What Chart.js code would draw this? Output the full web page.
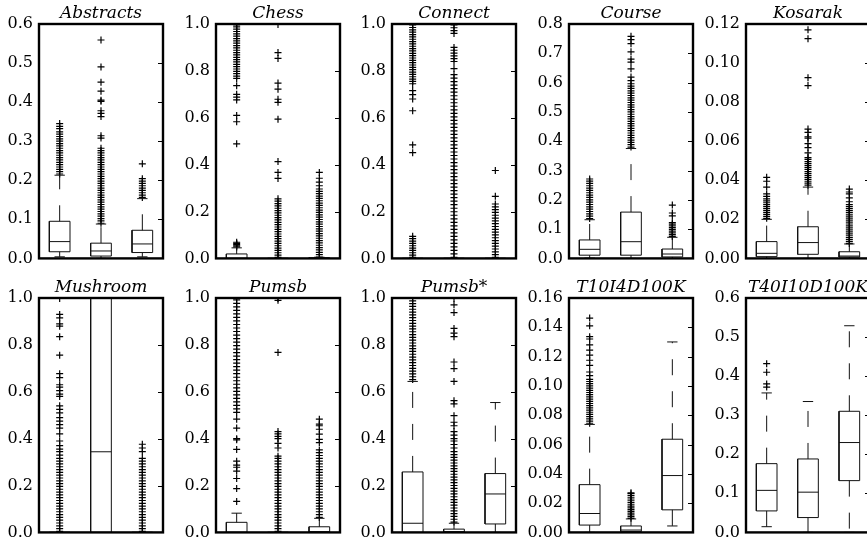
<!DOCTYPE html>
<html>
<head>
<meta charset="utf-8">
<script src="https://cdn.jsdelivr.net/npm/chart.js@4.4.0/dist/chart.umd.min.js"></script>
<style>
    html, body { margin: 0; padding: 0; background: #fff; overflow: hidden; width: 867px; height: 547px; }
    .panel { position: absolute; }
</style>
</head>
<body>
<script>
// panel titles and y ranges
const panelNames = ['Abstracts', 'Chess', 'Connect', 'Course', 'Kosarak',
                    'Mushroom', 'Pumsb', 'Pumsb*', 'T10I4D100K', 'T40I10D100K'];
const yMax = [0.6, 1.0, 1.0, 0.8, 0.12, 1.0, 1.0, 1.0, 0.16, 0.6];
const yStep = [0.1, 0.2, 0.2, 0.1, 0.02, 0.2, 0.2, 0.2, 0.02, 0.1];
const tickDecimals = [1, 1, 1, 1, 2, 1, 1, 1, 2, 1];
const boxPositions = [1, 2, 3];

// box stats per panel: [whisker low, q1, median, q3, whisker high]
const abstractsStats = [
    [0.004, 0.017, 0.043, 0.095, 0.213],
    [0.000, 0.006, 0.019, 0.039, 0.088],
    [0.004, 0.015, 0.037, 0.072, 0.153]
];
const abstractsFliers = [
    [0.216, 0.222, 0.228, 0.234, 0.240, 0.246, 0.252, 0.258, 0.264, 0.270, 0.276, 0.282, 0.288, 0.294, 0.300,
     0.306, 0.312, 0.318, 0.324, 0.332, 0.338, 0.345],
    [0.090, 0.096, 0.102, 0.108, 0.114, 0.120, 0.126, 0.132, 0.138, 0.144, 0.150, 0.156, 0.162, 0.168, 0.174,
     0.180, 0.186, 0.192, 0.198, 0.204, 0.210, 0.216, 0.222, 0.228, 0.234, 0.240, 0.246, 0.252, 0.258, 0.264,
     0.270, 0.276, 0.282, 0.308, 0.314, 0.363, 0.371, 0.378, 0.402, 0.405, 0.428, 0.451, 0.490, 0.559],
    [0.156, 0.162, 0.168, 0.174, 0.180, 0.186, 0.192, 0.198, 0.204, 0.242]
];

const chessStats = [
    [0, 0, 0, 0.019, 0.045],
    [0, 0, 0, 0, 0],
    [0, 0, 0, 0.003, 0.005]
];
const chessFliers = [
    [0.049, 0.054, 0.059, 0.064, 0.069, 0.489, 0.583, 0.610, 0.676, 0.688, 0.700, 0.737, 0.768, 0.778, 0.788,
     0.798, 0.808, 0.818, 0.828, 0.838, 0.848, 0.858, 0.868, 0.878, 0.888, 0.898, 0.908, 0.918, 0.928, 0.938,
     0.948, 0.958, 0.968, 0.978, 0.988, 0.996],
    [0.004, 0.014, 0.024, 0.034, 0.044, 0.054, 0.064, 0.074, 0.084, 0.094, 0.104, 0.114, 0.124, 0.134, 0.144,
     0.154, 0.164, 0.174, 0.184, 0.194, 0.204, 0.214, 0.224, 0.234, 0.244, 0.254, 0.341, 0.367, 0.413, 0.594,
     0.666, 0.679, 0.722, 0.748, 0.853, 0.878, 0.998],
    [0.006, 0.016, 0.026, 0.036, 0.046, 0.056, 0.066, 0.076, 0.086, 0.096, 0.106, 0.116, 0.126, 0.136, 0.146,
     0.156, 0.166, 0.176, 0.186, 0.196, 0.206, 0.216, 0.226, 0.236, 0.246, 0.256, 0.266, 0.276, 0.286, 0.296,
     0.310, 0.325, 0.342, 0.367]
];

const connectStats = [
    [0, 0, 0, 0, 0],
    [0, 0, 0, 0, 0],
    [0, 0, 0, 0, 0]
];
const connectFliers = [
    [0.004, 0.014, 0.024, 0.034, 0.044, 0.054, 0.064, 0.074, 0.084, 0.094, 0.451, 0.484, 0.630, 0.680, 0.699,
     0.716, 0.745, 0.755, 0.765, 0.775, 0.785, 0.795, 0.805, 0.815, 0.825, 0.835, 0.845, 0.855, 0.865, 0.875,
     0.885, 0.895, 0.905, 0.915, 0.925, 0.935, 0.945, 0.955, 0.965, 0.975, 0.985, 0.996],
    [0.004, 0.019, 0.034, 0.049, 0.064, 0.079, 0.094, 0.109, 0.124, 0.139, 0.154, 0.169, 0.184, 0.199, 0.214,
     0.229, 0.244, 0.259, 0.274, 0.289, 0.304, 0.319, 0.334, 0.349, 0.364, 0.379, 0.394, 0.409, 0.424, 0.439,
     0.454, 0.469, 0.484, 0.499, 0.514, 0.529, 0.544, 0.559, 0.574, 0.589, 0.604, 0.619, 0.634, 0.649, 0.664,
     0.679, 0.694, 0.709, 0.724, 0.739, 0.754, 0.769, 0.784, 0.810, 0.840, 0.852, 0.864, 0.876, 0.888, 0.900,
     0.960, 0.972, 0.984, 0.996],
    [0.004, 0.016, 0.028, 0.040, 0.052, 0.064, 0.076, 0.088, 0.100, 0.112, 0.124, 0.136, 0.148, 0.160, 0.172,
     0.184, 0.196, 0.208, 0.220, 0.232, 0.265, 0.375]
];

const courseStats = [
    [0.001, 0.011, 0.031, 0.063, 0.132],
    [0.000, 0.011, 0.057, 0.158, 0.375],
    [0.000, 0.005, 0.015, 0.032, 0.072]
];
const courseFliers = [
    [0.136, 0.144, 0.152, 0.160, 0.168, 0.176, 0.184, 0.192, 0.200, 0.208, 0.216, 0.224, 0.232, 0.240, 0.248,
     0.256, 0.264, 0.271],
    [0.380, 0.388, 0.396, 0.404, 0.412, 0.420, 0.428, 0.436, 0.444, 0.452, 0.460, 0.468, 0.476, 0.484, 0.492,
     0.500, 0.508, 0.516, 0.524, 0.532, 0.540, 0.548, 0.556, 0.564, 0.572, 0.580, 0.588, 0.596, 0.607, 0.619,
     0.647, 0.670, 0.680, 0.705, 0.733, 0.747, 0.758],
    [0.075, 0.081, 0.087, 0.093, 0.099, 0.105, 0.111, 0.117, 0.122, 0.145, 0.155, 0.182]
];

const kosarakStats = [
    [0.0, 0.0009, 0.0026, 0.0086, 0.0200],
    [0.0, 0.0021, 0.0081, 0.0162, 0.0365],
    [0.0, 0.0007, 0.0012, 0.0034, 0.0074]
];
const kosarakFliers = [
    [0.0205, 0.0215, 0.0225, 0.0235, 0.0245, 0.0255, 0.0265, 0.0275, 0.0285, 0.0295, 0.0305, 0.0318, 0.0330,
     0.0365, 0.0395, 0.0415],
    [0.0375, 0.0385, 0.0395, 0.0405, 0.0415, 0.0425, 0.0435, 0.0445, 0.0455, 0.0465, 0.0475, 0.0485, 0.0495,
     0.0507, 0.0516, 0.0540, 0.0567, 0.0588, 0.0615, 0.0622, 0.0645, 0.0662, 0.0885, 0.0925, 0.1125, 0.1170],
    [0.0076, 0.0086, 0.0096, 0.0106, 0.0116, 0.0126, 0.0136, 0.0146, 0.0156, 0.0166, 0.0176, 0.0186, 0.0196,
     0.0206, 0.0216, 0.0226, 0.0236, 0.0246, 0.0256, 0.0266, 0.0276, 0.0290, 0.0310, 0.0330, 0.0340, 0.0355]
];

const mushroomStats = [
    [0, 0, 0, 0, 0],
    [0, 0, 0.344, 1.0, 1.0],
    [0, 0, 0, 0, 0]
];
const mushroomFliers = [
    [0.004, 0.016, 0.028, 0.040, 0.052, 0.064, 0.076, 0.088, 0.100, 0.112, 0.124, 0.136, 0.148, 0.160, 0.172,
     0.184, 0.196, 0.208, 0.220, 0.232, 0.244, 0.256, 0.268, 0.280, 0.292, 0.304, 0.316, 0.330, 0.345, 0.355,
     0.370, 0.390, 0.420, 0.445, 0.460, 0.475, 0.490, 0.510, 0.525, 0.540, 0.580, 0.590, 0.605, 0.620, 0.630,
     0.660, 0.677, 0.756, 0.835, 0.880, 0.890, 0.915, 0.930, 0.998],
    [],
    [0.004, 0.016, 0.028, 0.040, 0.052, 0.064, 0.076, 0.088, 0.100, 0.112, 0.124, 0.136, 0.148, 0.160, 0.172,
     0.184, 0.196, 0.208, 0.220, 0.232, 0.244, 0.256, 0.268, 0.280, 0.292, 0.304, 0.316, 0.345, 0.360, 0.376]
];

const pumsbStats = [
    [0, 0, 0, 0.043, 0.082],
    [0, 0, 0, 0, 0],
    [0, 0, 0.003, 0.024, 0.060]
];
const pumsbFliers = [
    [0.132, 0.187, 0.230, 0.261, 0.278, 0.287, 0.304, 0.354, 0.395, 0.400, 0.445, 0.483, 0.512, 0.527, 0.542,
     0.557, 0.572, 0.587, 0.602, 0.617, 0.632, 0.647, 0.662, 0.677, 0.692, 0.707, 0.722, 0.737, 0.752, 0.767,
     0.782, 0.797, 0.812, 0.827, 0.842, 0.857, 0.872, 0.887, 0.902, 0.917, 0.932, 0.947, 0.962, 0.977, 0.992],
    [0.004, 0.016, 0.028, 0.040, 0.052, 0.064, 0.076, 0.088, 0.100, 0.112, 0.124, 0.136, 0.148, 0.160, 0.172,
     0.184, 0.196, 0.208, 0.220, 0.232, 0.244, 0.256, 0.268, 0.280, 0.292, 0.304, 0.316, 0.325, 0.360, 0.380,
     0.400, 0.410, 0.420, 0.430, 0.768, 0.990, 0.998],
    [0.064, 0.076, 0.088, 0.100, 0.112, 0.124, 0.136, 0.148, 0.160, 0.172, 0.184, 0.196, 0.208, 0.220, 0.232,
     0.244, 0.256, 0.268, 0.280, 0.292, 0.304, 0.316, 0.328, 0.340, 0.352, 0.383, 0.397, 0.419, 0.440, 0.455,
     0.462, 0.483]
];

const pumsbStarStats = [
    [0, 0, 0.039, 0.258, 0.644],
    [0, 0, 0.003, 0.014, 0.039],
    [0, 0.036, 0.164, 0.251, 0.554]
];
const pumsbStarFliers = [
    [0.652, 0.664, 0.676, 0.688, 0.700, 0.712, 0.724, 0.736, 0.748, 0.760, 0.772, 0.784, 0.796, 0.808, 0.820,
     0.832, 0.844, 0.856, 0.868, 0.880, 0.892, 0.904, 0.916, 0.928, 0.940, 0.952, 0.964, 0.976, 0.988, 0.998],
    [0.044, 0.056, 0.068, 0.080, 0.092, 0.104, 0.116, 0.128, 0.140, 0.152, 0.164, 0.176, 0.188, 0.200, 0.212,
     0.224, 0.236, 0.248, 0.260, 0.272, 0.284, 0.296, 0.308, 0.320, 0.332, 0.345, 0.360, 0.375, 0.390, 0.400,
     0.415, 0.430, 0.455, 0.470, 0.498, 0.548, 0.562, 0.644, 0.699, 0.727, 0.835, 0.850, 0.870, 0.938, 0.971,
     0.998],
    []
];

const t10Stats = [
    [0.0, 0.0050, 0.0129, 0.0326, 0.0737],
    [0.0, 0.0005, 0.0016, 0.0044, 0.0092],
    [0.0044, 0.0154, 0.0388, 0.0636, 0.1300]
];
const t10Fliers = [
    [0.0745, 0.0760, 0.0775, 0.0790, 0.0805, 0.0820, 0.0835, 0.0850, 0.0865, 0.0880, 0.0895, 0.0910, 0.0925,
     0.0940, 0.0955, 0.0970, 0.0985, 0.1000, 0.1015, 0.1030, 0.1045, 0.1070, 0.1095, 0.1140, 0.1175, 0.1210,
     0.1244, 0.1280, 0.1320, 0.1336, 0.1410, 0.1463],
    [0.0096, 0.0108, 0.0120, 0.0132, 0.0144, 0.0156, 0.0168, 0.0180, 0.0192, 0.0204, 0.0216, 0.0228, 0.0240,
     0.0252, 0.0264, 0.0270],
    []
];

const t40Stats = [
    [0.0146, 0.055, 0.1076, 0.176, 0.357],
    [0.0, 0.038, 0.103, 0.188, 0.335],
    [0.0, 0.1325, 0.230, 0.310, 0.529]
];
const t40Fliers = [
    [0.372, 0.380, 0.410, 0.432],
    [],
    []
];

const allStats = [abstractsStats, chessStats, connectStats, courseStats, kosarakStats,
                  mushroomStats, pumsbStats, pumsbStarStats, t10Stats, t40Stats];
const allFliers = [abstractsFliers, chessFliers, connectFliers, courseFliers, kosarakFliers,
                   mushroomFliers, pumsbFliers, pumsbStarFliers, t10Fliers, t40Fliers];

// layout of the grid
const plotLefts = [39, 215.5, 392, 569, 746];
const plotTops = [24, 298];
const PLOT_W = 124;
const PLOT_H = 233;
const AXIS_W = 44;
const TITLE_H = 24;
const BOTTOM_PAD = 16.6;   // what Chart.js keeps under the plot for the bottom tick label
const BOX_HALF = 0.25;
const CAP_HALF = 0.125;
const FONT = 'DejaVu Serif';

function gap(x) {
    return { x: x, y: null };
}

function boxLines(stats) {
    const pts = [];
    stats.forEach((s, i) => {
        const x = boxPositions[i];
        const [lo, q1, med, q3, hi] = s;
        pts.push({ x: x - BOX_HALF, y: q1 }, { x: x + BOX_HALF, y: q1 },
                 { x: x + BOX_HALF, y: q3 }, { x: x - BOX_HALF, y: q3 },
                 { x: x - BOX_HALF, y: q1 }, gap(x));
        pts.push({ x: x - BOX_HALF, y: med }, { x: x + BOX_HALF, y: med }, gap(x));
    });
    return pts;
}

function whiskerLines(stats) {
    const pts = [];
    stats.forEach((s, i) => {
        const x = boxPositions[i];
        const [lo, q1, med, q3, hi] = s;
        if (hi > q3) pts.push({ x: x, y: q3 }, { x: x, y: hi }, gap(x));
        if (lo < q1) pts.push({ x: x, y: q1 }, { x: x, y: lo }, gap(x));
    });
    return pts;
}

function capLines(stats) {
    const pts = [];
    stats.forEach((s, i) => {
        const x = boxPositions[i];
        const [lo, q1, med, q3, hi] = s;
        if (hi > q3) pts.push({ x: x - CAP_HALF, y: hi }, { x: x + CAP_HALF, y: hi }, gap(x));
        if (lo < q1) pts.push({ x: x - CAP_HALF, y: lo }, { x: x + CAP_HALF, y: lo }, gap(x));
    });
    return pts;
}

function flierPoints(fliers) {
    const pts = [];
    fliers.forEach((list, i) => {
        list.forEach(v => pts.push({ x: boxPositions[i], y: v }));
    });
    return pts;
}

// thick frame + inward ticks on the right edge
const framePlugin = {
    id: 'frame',
    afterDatasetsDraw(chart) {
        const { ctx, chartArea: a } = chart;
        const y = chart.scales.y;
        ctx.save();
        ctx.strokeStyle = '#000';
        ctx.lineWidth = 1;
        y.ticks.forEach(t => {
            const py = Math.round(y.getPixelForValue(t.value)) + 0.5;
            ctx.beginPath();
            ctx.moveTo(a.right, py);
            ctx.lineTo(a.right - 5, py);
            ctx.stroke();
        });
        ctx.lineWidth = 2.4;
        ctx.strokeRect(a.left, a.top, a.right - a.left, a.bottom - a.top);
        ctx.restore();
    }
};

const lineStyle = {
    showLine: true,
    pointRadius: 0,
    pointHoverRadius: 0,
    borderColor: '#111',
    borderWidth: 1,
    tension: 0,
    spanGaps: false,
    fill: false
};

panelNames.forEach((name, idx) => {
    const row = Math.floor(idx / 5);
    const col = idx % 5;
    const canvas = document.createElement('canvas');
    canvas.className = 'panel';
    canvas.width = AXIS_W * 2 + PLOT_W;
    canvas.height = Math.round(TITLE_H + PLOT_H + BOTTOM_PAD);
    canvas.style.left = (plotLefts[col] - AXIS_W) + 'px';
    canvas.style.top = (plotTops[row] - TITLE_H) + 'px';
    document.body.appendChild(canvas);

    const stats = allStats[idx];
    const dec = tickDecimals[idx];

    new Chart(canvas, {
        type: 'scatter',
        data: {
            datasets: [
                Object.assign({ data: boxLines(stats) }, lineStyle),
                Object.assign({ data: whiskerLines(stats), borderDash: [16, 16] }, lineStyle),
                Object.assign({ data: capLines(stats) }, lineStyle),
                {
                    data: flierPoints(allFliers[idx]),
                    pointStyle: 'cross',
                    pointRadius: 3.5,
                    pointHoverRadius: 3.5,
                    borderColor: '#000',
                    backgroundColor: '#000',
                    borderWidth: 1.2,
                    showLine: false
                }
            ]
        },
        options: {
            responsive: false,
            animation: false,
            events: [],
            layout: { padding: 0 },
            plugins: {
                legend: { display: false },
                tooltip: { enabled: false },
                title: {
                    display: true,
                    text: name,
                    color: '#000',
                    font: { family: FONT, size: 17, style: 'italic', weight: 'normal' },
                    padding: { top: 3.6, bottom: 0 }
                }
            },
            scales: {
                x: { type: 'linear', min: 0.5, max: 3.5, display: false },
                y: {
                    min: 0,
                    max: yMax[idx],
                    grid: { display: false, drawTicks: false },
                    border: { display: false },
                    ticks: {
                        stepSize: yStep[idx],
                        autoSkip: false,
                        color: '#000',
                        padding: 6,
                        font: { family: FONT, size: 16 },
                        callback: v => Number(v).toFixed(dec)
                    },
                    afterFit: s => { s.width = AXIS_W; }
                },
                // empty right-hand axis keeps the plot centred under its title
                yRight: {
                    position: 'right',
                    min: 0,
                    max: yMax[idx],
                    grid: { display: false, drawTicks: false },
                    border: { display: false },
                    ticks: { display: false },
                    afterFit: s => { s.width = AXIS_W; }
                }
            }
        },
        plugins: [framePlugin]
    });
});
</script>
</body>
</html>
